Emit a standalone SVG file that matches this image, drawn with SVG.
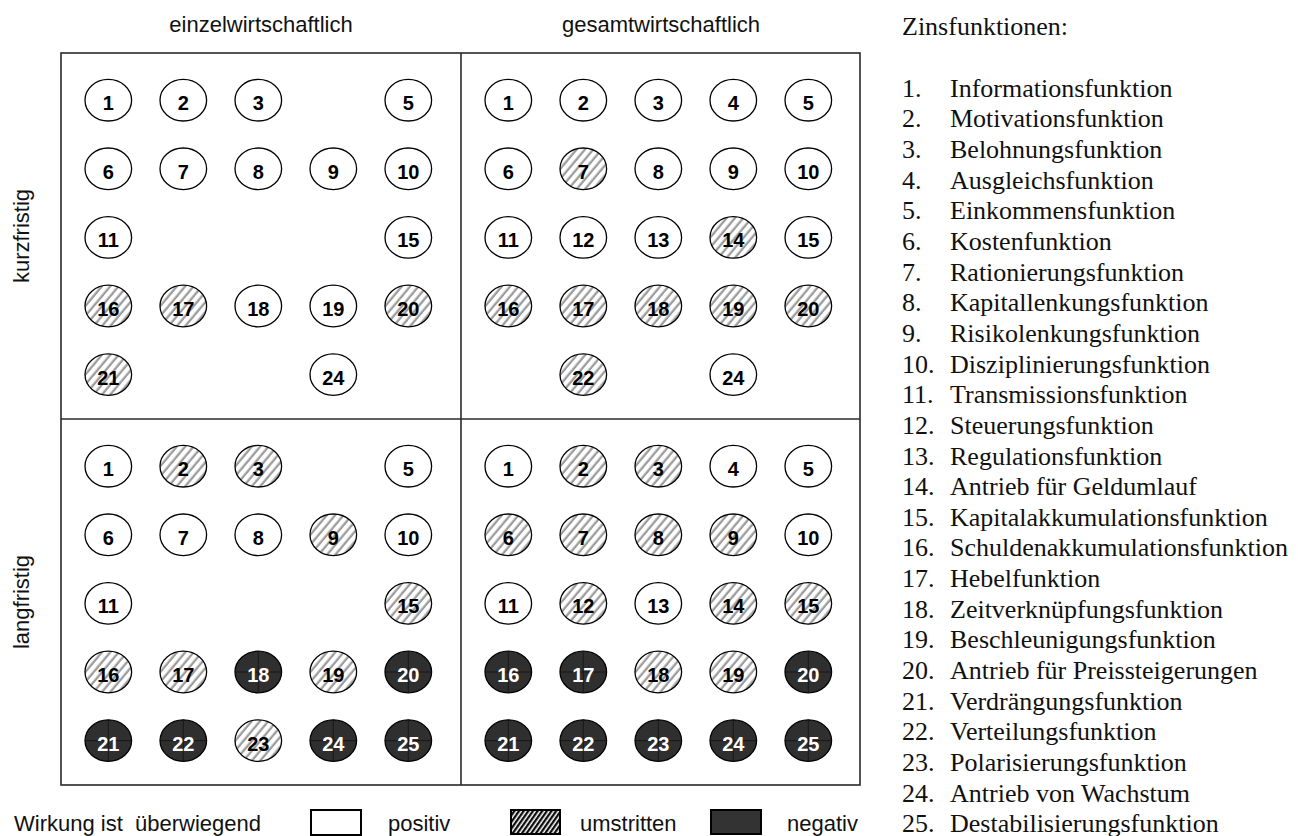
<svg xmlns="http://www.w3.org/2000/svg" width="1298" height="836" viewBox="0 0 1298 836">
<style>
.lbl{font-family:"Liberation Sans",Arial,sans-serif;font-size:22px;fill:#111}
.lst{font-family:"Liberation Serif","Times New Roman",serif;font-size:26px;fill:#111}
.num{font-family:"Liberation Sans",Arial,sans-serif;font-size:20px;font-weight:bold;text-anchor:middle;fill:#000}
.nd .num{fill:#fff}
.w{fill:#fff;stroke:#000;stroke-width:1.3}
.h{fill:url(#hatch);stroke:#000;stroke-width:1.3}
.d{fill:#2f2f2f;stroke:#000;stroke-width:1.3}
.x{stroke:#151515;stroke-width:0.9;fill:none}
.frame{fill:none;stroke:#2a2a2a;stroke-width:1.6}
</style>
<defs>
<pattern id="hatch" width="6.4" height="6.4" patternUnits="userSpaceOnUse" patternTransform="rotate(40)">
<rect width="6.4" height="6.4" fill="#fff"/>
<line x1="1.6" y1="-1" x2="1.6" y2="7.4" stroke="#9c9c9c" stroke-width="2.3"/>
</pattern>
<pattern id="hatchL" width="3.8" height="3.8" patternUnits="userSpaceOnUse" patternTransform="rotate(35)">
<rect width="3.8" height="3.8" fill="#fff"/>
<line x1="1.2" y1="-1" x2="1.2" y2="4.8" stroke="#000" stroke-width="2.2"/>
</pattern>
</defs>

<g id="headings">
<text class="lbl" x="261" y="32" text-anchor="middle">einzelwirtschaftlich</text>
<text class="lbl" x="661" y="32" text-anchor="middle">gesamtwirtschaftlich</text>
<text class="lbl" transform="translate(29,236) rotate(-90)" text-anchor="middle">kurzfristig</text>
<text class="lbl" transform="translate(29,602) rotate(-90)" text-anchor="middle">langfristig</text>
</g>

<g id="connectors">
<rect class="frame" x="61" y="53" width="799" height="732"/>
<line class="frame" x1="461" y1="53" x2="461" y2="785"/>
<line class="frame" x1="61" y1="419" x2="860" y2="419"/>
</g>

<!-- Quadrant: einzelwirtschaftlich / kurzfristig -->
<g id="ek-1" transform="translate(108.3,100.2)"><ellipse class="w" rx="23.3" ry="20.8"/><text class="num" y="10">1</text></g>
<g id="ek-2" transform="translate(183.3,100.2)"><ellipse class="w" rx="23.3" ry="20.8"/><text class="num" y="10">2</text></g>
<g id="ek-3" transform="translate(258.3,100.2)"><ellipse class="w" rx="23.3" ry="20.8"/><text class="num" y="10">3</text></g>
<g id="ek-5" transform="translate(408.3,100.2)"><ellipse class="w" rx="23.3" ry="20.8"/><text class="num" y="10">5</text></g>
<g id="ek-6" transform="translate(108.3,168.8)"><ellipse class="w" rx="23.3" ry="20.8"/><text class="num" y="10">6</text></g>
<g id="ek-7" transform="translate(183.3,168.8)"><ellipse class="w" rx="23.3" ry="20.8"/><text class="num" y="10">7</text></g>
<g id="ek-8" transform="translate(258.3,168.8)"><ellipse class="w" rx="23.3" ry="20.8"/><text class="num" y="10">8</text></g>
<g id="ek-9" transform="translate(333.3,168.8)"><ellipse class="w" rx="23.3" ry="20.8"/><text class="num" y="10">9</text></g>
<g id="ek-10" transform="translate(408.3,168.8)"><ellipse class="w" rx="23.3" ry="20.8"/><text class="num" y="10">10</text></g>
<g id="ek-11" transform="translate(108.3,237.4)"><ellipse class="w" rx="23.3" ry="20.8"/><text class="num" y="10">11</text></g>
<g id="ek-15" transform="translate(408.3,237.4)"><ellipse class="w" rx="23.3" ry="20.8"/><text class="num" y="10">15</text></g>
<g id="ek-16" transform="translate(108.3,306)"><ellipse class="h" rx="23.3" ry="20.8"/><text class="num" y="10">16</text></g>
<g id="ek-17" transform="translate(183.3,306)"><ellipse class="h" rx="23.3" ry="20.8"/><text class="num" y="10">17</text></g>
<g id="ek-18" transform="translate(258.3,306)"><ellipse class="w" rx="23.3" ry="20.8"/><text class="num" y="10">18</text></g>
<g id="ek-19" transform="translate(333.3,306)"><ellipse class="w" rx="23.3" ry="20.8"/><text class="num" y="10">19</text></g>
<g id="ek-20" transform="translate(408.3,306)"><ellipse class="h" rx="23.3" ry="20.8"/><text class="num" y="10">20</text></g>
<g id="ek-21" transform="translate(108.3,374.6)"><ellipse class="h" rx="23.3" ry="20.8"/><text class="num" y="10">21</text></g>
<g id="ek-24" transform="translate(333.3,374.6)"><ellipse class="w" rx="23.3" ry="20.8"/><text class="num" y="10">24</text></g>

<!-- Quadrant: gesamtwirtschaftlich / kurzfristig -->
<g id="gk-1" transform="translate(508.3,100.2)"><ellipse class="w" rx="23.3" ry="20.8"/><text class="num" y="10">1</text></g>
<g id="gk-2" transform="translate(583.3,100.2)"><ellipse class="w" rx="23.3" ry="20.8"/><text class="num" y="10">2</text></g>
<g id="gk-3" transform="translate(658.3,100.2)"><ellipse class="w" rx="23.3" ry="20.8"/><text class="num" y="10">3</text></g>
<g id="gk-4" transform="translate(733.3,100.2)"><ellipse class="w" rx="23.3" ry="20.8"/><text class="num" y="10">4</text></g>
<g id="gk-5" transform="translate(808.3,100.2)"><ellipse class="w" rx="23.3" ry="20.8"/><text class="num" y="10">5</text></g>
<g id="gk-6" transform="translate(508.3,168.8)"><ellipse class="w" rx="23.3" ry="20.8"/><text class="num" y="10">6</text></g>
<g id="gk-7" transform="translate(583.3,168.8)"><ellipse class="h" rx="23.3" ry="20.8"/><text class="num" y="10">7</text></g>
<g id="gk-8" transform="translate(658.3,168.8)"><ellipse class="w" rx="23.3" ry="20.8"/><text class="num" y="10">8</text></g>
<g id="gk-9" transform="translate(733.3,168.8)"><ellipse class="w" rx="23.3" ry="20.8"/><text class="num" y="10">9</text></g>
<g id="gk-10" transform="translate(808.3,168.8)"><ellipse class="w" rx="23.3" ry="20.8"/><text class="num" y="10">10</text></g>
<g id="gk-11" transform="translate(508.3,237.4)"><ellipse class="w" rx="23.3" ry="20.8"/><text class="num" y="10">11</text></g>
<g id="gk-12" transform="translate(583.3,237.4)"><ellipse class="w" rx="23.3" ry="20.8"/><text class="num" y="10">12</text></g>
<g id="gk-13" transform="translate(658.3,237.4)"><ellipse class="w" rx="23.3" ry="20.8"/><text class="num" y="10">13</text></g>
<g id="gk-14" transform="translate(733.3,237.4)"><ellipse class="h" rx="23.3" ry="20.8"/><text class="num" y="10">14</text></g>
<g id="gk-15" transform="translate(808.3,237.4)"><ellipse class="w" rx="23.3" ry="20.8"/><text class="num" y="10">15</text></g>
<g id="gk-16" transform="translate(508.3,306)"><ellipse class="h" rx="23.3" ry="20.8"/><text class="num" y="10">16</text></g>
<g id="gk-17" transform="translate(583.3,306)"><ellipse class="h" rx="23.3" ry="20.8"/><text class="num" y="10">17</text></g>
<g id="gk-18" transform="translate(658.3,306)"><ellipse class="h" rx="23.3" ry="20.8"/><text class="num" y="10">18</text></g>
<g id="gk-19" transform="translate(733.3,306)"><ellipse class="h" rx="23.3" ry="20.8"/><text class="num" y="10">19</text></g>
<g id="gk-20" transform="translate(808.3,306)"><ellipse class="h" rx="23.3" ry="20.8"/><text class="num" y="10">20</text></g>
<g id="gk-22" transform="translate(583.3,374.6)"><ellipse class="h" rx="23.3" ry="20.8"/><text class="num" y="10">22</text></g>
<g id="gk-24" transform="translate(733.3,374.6)"><ellipse class="w" rx="23.3" ry="20.8"/><text class="num" y="10">24</text></g>

<!-- Quadrant: einzelwirtschaftlich / langfristig -->
<g id="el-1" transform="translate(108.3,466.2)"><ellipse class="w" rx="23.3" ry="20.8"/><text class="num" y="10">1</text></g>
<g id="el-2" transform="translate(183.3,466.2)"><ellipse class="h" rx="23.3" ry="20.8"/><text class="num" y="10">2</text></g>
<g id="el-3" transform="translate(258.3,466.2)"><ellipse class="h" rx="23.3" ry="20.8"/><text class="num" y="10">3</text></g>
<g id="el-5" transform="translate(408.3,466.2)"><ellipse class="w" rx="23.3" ry="20.8"/><text class="num" y="10">5</text></g>
<g id="el-6" transform="translate(108.3,534.8)"><ellipse class="w" rx="23.3" ry="20.8"/><text class="num" y="10">6</text></g>
<g id="el-7" transform="translate(183.3,534.8)"><ellipse class="w" rx="23.3" ry="20.8"/><text class="num" y="10">7</text></g>
<g id="el-8" transform="translate(258.3,534.8)"><ellipse class="w" rx="23.3" ry="20.8"/><text class="num" y="10">8</text></g>
<g id="el-9" transform="translate(333.3,534.8)"><ellipse class="h" rx="23.3" ry="20.8"/><text class="num" y="10">9</text></g>
<g id="el-10" transform="translate(408.3,534.8)"><ellipse class="w" rx="23.3" ry="20.8"/><text class="num" y="10">10</text></g>
<g id="el-11" transform="translate(108.3,603.4)"><ellipse class="w" rx="23.3" ry="20.8"/><text class="num" y="10">11</text></g>
<g id="el-15" transform="translate(408.3,603.4)"><ellipse class="h" rx="23.3" ry="20.8"/><text class="num" y="10">15</text></g>
<g id="el-16" transform="translate(108.3,672)"><ellipse class="h" rx="23.3" ry="20.8"/><text class="num" y="10">16</text></g>
<g id="el-17" transform="translate(183.3,672)"><ellipse class="h" rx="23.3" ry="20.8"/><text class="num" y="10">17</text></g>
<g id="el-18" class="nd" transform="translate(258.3,672)"><ellipse class="d" rx="23.3" ry="20.8"/><path class="x" d="M-23.3 0H23.3M0-20.8V20.8"/><text class="num" y="10">18</text></g>
<g id="el-19" transform="translate(333.3,672)"><ellipse class="h" rx="23.3" ry="20.8"/><text class="num" y="10">19</text></g>
<g id="el-20" class="nd" transform="translate(408.3,672)"><ellipse class="d" rx="23.3" ry="20.8"/><path class="x" d="M-23.3 0H23.3M0-20.8V20.8"/><text class="num" y="10">20</text></g>
<g id="el-21" class="nd" transform="translate(108.3,740.6)"><ellipse class="d" rx="23.3" ry="20.8"/><path class="x" d="M-23.3 0H23.3M0-20.8V20.8"/><text class="num" y="10">21</text></g>
<g id="el-22" class="nd" transform="translate(183.3,740.6)"><ellipse class="d" rx="23.3" ry="20.8"/><path class="x" d="M-23.3 0H23.3M0-20.8V20.8"/><text class="num" y="10">22</text></g>
<g id="el-23" transform="translate(258.3,740.6)"><ellipse class="h" rx="23.3" ry="20.8"/><text class="num" y="10">23</text></g>
<g id="el-24" class="nd" transform="translate(333.3,740.6)"><ellipse class="d" rx="23.3" ry="20.8"/><path class="x" d="M-23.3 0H23.3M0-20.8V20.8"/><text class="num" y="10">24</text></g>
<g id="el-25" class="nd" transform="translate(408.3,740.6)"><ellipse class="d" rx="23.3" ry="20.8"/><path class="x" d="M-23.3 0H23.3M0-20.8V20.8"/><text class="num" y="10">25</text></g>

<!-- Quadrant: gesamtwirtschaftlich / langfristig -->
<g id="gl-1" transform="translate(508.3,466.2)"><ellipse class="w" rx="23.3" ry="20.8"/><text class="num" y="10">1</text></g>
<g id="gl-2" transform="translate(583.3,466.2)"><ellipse class="h" rx="23.3" ry="20.8"/><text class="num" y="10">2</text></g>
<g id="gl-3" transform="translate(658.3,466.2)"><ellipse class="h" rx="23.3" ry="20.8"/><text class="num" y="10">3</text></g>
<g id="gl-4" transform="translate(733.3,466.2)"><ellipse class="w" rx="23.3" ry="20.8"/><text class="num" y="10">4</text></g>
<g id="gl-5" transform="translate(808.3,466.2)"><ellipse class="w" rx="23.3" ry="20.8"/><text class="num" y="10">5</text></g>
<g id="gl-6" transform="translate(508.3,534.8)"><ellipse class="h" rx="23.3" ry="20.8"/><text class="num" y="10">6</text></g>
<g id="gl-7" transform="translate(583.3,534.8)"><ellipse class="h" rx="23.3" ry="20.8"/><text class="num" y="10">7</text></g>
<g id="gl-8" transform="translate(658.3,534.8)"><ellipse class="h" rx="23.3" ry="20.8"/><text class="num" y="10">8</text></g>
<g id="gl-9" transform="translate(733.3,534.8)"><ellipse class="h" rx="23.3" ry="20.8"/><text class="num" y="10">9</text></g>
<g id="gl-10" transform="translate(808.3,534.8)"><ellipse class="w" rx="23.3" ry="20.8"/><text class="num" y="10">10</text></g>
<g id="gl-11" transform="translate(508.3,603.4)"><ellipse class="w" rx="23.3" ry="20.8"/><text class="num" y="10">11</text></g>
<g id="gl-12" transform="translate(583.3,603.4)"><ellipse class="h" rx="23.3" ry="20.8"/><text class="num" y="10">12</text></g>
<g id="gl-13" transform="translate(658.3,603.4)"><ellipse class="w" rx="23.3" ry="20.8"/><text class="num" y="10">13</text></g>
<g id="gl-14" transform="translate(733.3,603.4)"><ellipse class="h" rx="23.3" ry="20.8"/><text class="num" y="10">14</text></g>
<g id="gl-15" transform="translate(808.3,603.4)"><ellipse class="h" rx="23.3" ry="20.8"/><text class="num" y="10">15</text></g>
<g id="gl-16" class="nd" transform="translate(508.3,672)"><ellipse class="d" rx="23.3" ry="20.8"/><path class="x" d="M-23.3 0H23.3M0-20.8V20.8"/><text class="num" y="10">16</text></g>
<g id="gl-17" class="nd" transform="translate(583.3,672)"><ellipse class="d" rx="23.3" ry="20.8"/><path class="x" d="M-23.3 0H23.3M0-20.8V20.8"/><text class="num" y="10">17</text></g>
<g id="gl-18" transform="translate(658.3,672)"><ellipse class="h" rx="23.3" ry="20.8"/><text class="num" y="10">18</text></g>
<g id="gl-19" transform="translate(733.3,672)"><ellipse class="h" rx="23.3" ry="20.8"/><text class="num" y="10">19</text></g>
<g id="gl-20" class="nd" transform="translate(808.3,672)"><ellipse class="d" rx="23.3" ry="20.8"/><path class="x" d="M-23.3 0H23.3M0-20.8V20.8"/><text class="num" y="10">20</text></g>
<g id="gl-21" class="nd" transform="translate(508.3,740.6)"><ellipse class="d" rx="23.3" ry="20.8"/><path class="x" d="M-23.3 0H23.3M0-20.8V20.8"/><text class="num" y="10">21</text></g>
<g id="gl-22" class="nd" transform="translate(583.3,740.6)"><ellipse class="d" rx="23.3" ry="20.8"/><path class="x" d="M-23.3 0H23.3M0-20.8V20.8"/><text class="num" y="10">22</text></g>
<g id="gl-23" class="nd" transform="translate(658.3,740.6)"><ellipse class="d" rx="23.3" ry="20.8"/><path class="x" d="M-23.3 0H23.3M0-20.8V20.8"/><text class="num" y="10">23</text></g>
<g id="gl-24" class="nd" transform="translate(733.3,740.6)"><ellipse class="d" rx="23.3" ry="20.8"/><path class="x" d="M-23.3 0H23.3M0-20.8V20.8"/><text class="num" y="10">24</text></g>
<g id="gl-25" class="nd" transform="translate(808.3,740.6)"><ellipse class="d" rx="23.3" ry="20.8"/><path class="x" d="M-23.3 0H23.3M0-20.8V20.8"/><text class="num" y="10">25</text></g>

<g id="legend">
<text class="lbl" x="14" y="831" xml:space="preserve">Wirkung ist  überwiegend</text>
<rect x="311" y="810" width="50" height="25" fill="#fff" stroke="#000" stroke-width="2"/>
<text class="lbl" x="388" y="831">positiv</text>
<rect x="511" y="810" width="49" height="24" fill="url(#hatchL)" stroke="#000" stroke-width="2"/>
<text class="lbl" x="580" y="831">umstritten</text>
<rect x="711" y="810" width="50" height="24" fill="#333" stroke="#000" stroke-width="2"/>
<text class="lbl" x="787" y="831">negativ</text>
</g>

<g id="list">
<text class="lst" x="902" y="35">Zinsfunktionen:</text>
<text class="lst" x="902" y="96.7">1.</text><text class="lst" x="950" y="96.7">Informationsfunktion</text>
<text class="lst" x="902" y="127.3">2.</text><text class="lst" x="950" y="127.3">Motivationsfunktion</text>
<text class="lst" x="902" y="158">3.</text><text class="lst" x="950" y="158">Belohnungsfunktion</text>
<text class="lst" x="902" y="188.6">4.</text><text class="lst" x="950" y="188.6">Ausgleichsfunktion</text>
<text class="lst" x="902" y="219.3">5.</text><text class="lst" x="950" y="219.3">Einkommensfunktion</text>
<text class="lst" x="902" y="249.9">6.</text><text class="lst" x="950" y="249.9">Kostenfunktion</text>
<text class="lst" x="902" y="280.6">7.</text><text class="lst" x="950" y="280.6">Rationierungsfunktion</text>
<text class="lst" x="902" y="311.2">8.</text><text class="lst" x="950" y="311.2">Kapitallenkungsfunktion</text>
<text class="lst" x="902" y="341.9">9.</text><text class="lst" x="950" y="341.9">Risikolenkungsfunktion</text>
<text class="lst" x="902" y="372.5">10.</text><text class="lst" x="950" y="372.5">Disziplinierungsfunktion</text>
<text class="lst" x="902" y="403.2">11.</text><text class="lst" x="950" y="403.2">Transmissionsfunktion</text>
<text class="lst" x="902" y="433.8">12.</text><text class="lst" x="950" y="433.8">Steuerungsfunktion</text>
<text class="lst" x="902" y="464.5">13.</text><text class="lst" x="950" y="464.5">Regulationsfunktion</text>
<text class="lst" x="902" y="495.1">14.</text><text class="lst" x="950" y="495.1">Antrieb für Geldumlauf</text>
<text class="lst" x="902" y="525.8">15.</text><text class="lst" x="950" y="525.8">Kapitalakkumulationsfunktion</text>
<text class="lst" x="902" y="556.4">16.</text><text class="lst" x="950" y="556.4">Schuldenakkumulationsfunktion</text>
<text class="lst" x="902" y="587.1">17.</text><text class="lst" x="950" y="587.1">Hebelfunktion</text>
<text class="lst" x="902" y="617.7">18.</text><text class="lst" x="950" y="617.7">Zeitverknüpfungsfunktion</text>
<text class="lst" x="902" y="648.4">19.</text><text class="lst" x="950" y="648.4">Beschleunigungsfunktion</text>
<text class="lst" x="902" y="679">20.</text><text class="lst" x="950" y="679">Antrieb für Preissteigerungen</text>
<text class="lst" x="902" y="709.7">21.</text><text class="lst" x="950" y="709.7">Verdrängungsfunktion</text>
<text class="lst" x="902" y="740.3">22.</text><text class="lst" x="950" y="740.3">Verteilungsfunktion</text>
<text class="lst" x="902" y="771">23.</text><text class="lst" x="950" y="771">Polarisierungsfunktion</text>
<text class="lst" x="902" y="801.6">24.</text><text class="lst" x="950" y="801.6">Antrieb von Wachstum</text>
<text class="lst" x="902" y="832.3">25.</text><text class="lst" x="950" y="832.3">Destabilisierungsfunktion</text>
</g>
</svg>
